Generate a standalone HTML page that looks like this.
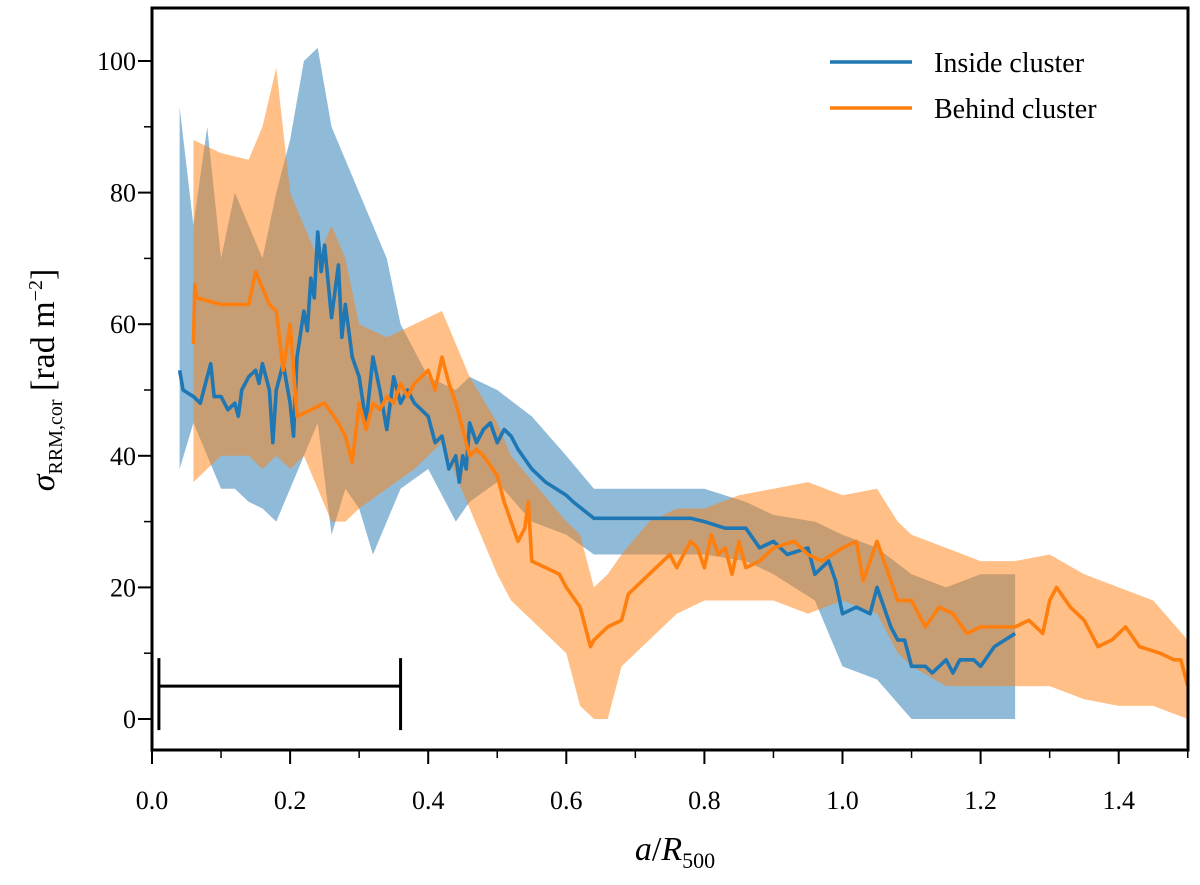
<!DOCTYPE html>
<html><head><meta charset="utf-8"><style>
body{margin:0;background:#fff}
text{font-family:"Liberation Serif",serif;fill:#000}
</style></head><body>
<svg id="chart" width="1200" height="880" xmlns="http://www.w3.org/2000/svg">
<g id="bands"></g><g id="lines"></g><g id="axes"></g>
</svg>
<script>
const blueX=[0.04,0.045,0.06,0.07,0.08,0.085,0.09,0.1,0.11,0.12,0.125,0.13,0.14,0.15,0.155,0.16,0.17,0.175,0.18,0.19,0.2,0.205,0.21,0.22,0.225,0.23,0.235,0.24,0.245,0.25,0.26,0.27,0.275,0.28,0.29,0.3,0.31,0.32,0.33,0.34,0.35,0.36,0.37,0.38,0.39,0.4,0.41,0.42,0.43,0.44,0.445,0.45,0.455,0.46,0.47,0.48,0.49,0.5,0.51,0.52,0.53,0.55,0.57,0.6,0.61,0.64,0.78,0.8,0.83,0.86,0.88,0.9,0.92,0.95,0.96,0.98,0.99,1.0,1.02,1.04,1.05,1.07,1.08,1.09,1.1,1.12,1.13,1.15,1.16,1.17,1.19,1.2,1.22,1.25];
const blueY=[53,50,49,48,52,54,49,49,47,48,46,50,52,53,51,54,50,42,50,54,48,43,55,62,59,67,64,74,68,72,61,69,58,63,55,52,45,55,50,44,52,48,50,48,47,46,42,43,38,40,36,40,38,45,42,44,45,42,44,43,41,38,36,34,33,30.5,30.5,30,29,29,26,27,25,26,22,24,21,16,17,16,20,14,12,12,8,8,7,9,7,9,9,8,11,13];
const blueBandX=[0.04,0.06,0.08,0.1,0.12,0.14,0.16,0.18,0.2,0.22,0.24,0.26,0.28,0.3,0.32,0.34,0.36,0.4,0.44,0.46,0.5,0.55,0.6,0.64,0.8,0.86,0.9,0.96,1.0,1.05,1.1,1.15,1.2,1.25];
const blueHi=[93,75,90,70,80,75,70,80,88,100,102,90,85,80,75,70,60,52,50,52,50,46,40,35,35,33,31,30,28,26,22,20,22,22];
const blueLo=[38,45,40,35,35,33,32,30,35,40,45,28,35,32,25,30,35,38,30,33,36,30,28,25,25,24,22,18,8,6,0,0,0,0];
const orangeX=[0.06,0.062,0.065,0.1,0.14,0.15,0.17,0.18,0.19,0.2,0.21,0.23,0.25,0.27,0.28,0.29,0.3,0.31,0.32,0.33,0.34,0.35,0.36,0.37,0.38,0.4,0.41,0.42,0.43,0.44,0.45,0.46,0.47,0.48,0.5,0.51,0.52,0.53,0.54,0.545,0.55,0.57,0.59,0.6,0.62,0.635,0.64,0.66,0.68,0.69,0.7,0.72,0.73,0.75,0.76,0.78,0.79,0.8,0.81,0.82,0.83,0.84,0.85,0.86,0.88,0.9,0.93,0.95,0.97,1.0,1.02,1.03,1.05,1.06,1.08,1.1,1.12,1.14,1.16,1.18,1.2,1.22,1.25,1.27,1.29,1.3,1.31,1.33,1.35,1.37,1.39,1.41,1.43,1.46,1.48,1.49,1.5];
const orangeY=[57,66,64,63,63,68,63,62,53,60,46,47,48,45,43,39,48,44,48,47,49,48,51,49,51,53,50,55,51,48,44,40,41,40,37,33,30,27,29,33,24,23,22,20,17,11,12,14,15,19,20,22,23,25,23,27,26,23,28,25,26,22,27,23,24,26,27,25,24,26,27,21,27,24,18,18,14,17,16,13,14,14,14,15,13,18,20,17,15,11,12,14,11,10,9,9,5];
const orangeBandX=[0.06,0.1,0.14,0.16,0.18,0.2,0.22,0.24,0.26,0.28,0.3,0.34,0.38,0.42,0.46,0.5,0.52,0.56,0.6,0.62,0.64,0.66,0.68,0.72,0.76,0.8,0.85,0.9,0.95,1.0,1.05,1.08,1.1,1.15,1.2,1.25,1.3,1.35,1.4,1.45,1.5];
const orangeHi=[88,86,85,90,99,80,75,70,75,70,60,58,60,62,52,45,40,35,30,28,20,22,25,30,32,32,34,35,36,34,35,30,28,26,24,24,25,22,20,18,12];
const orangeLo=[36,40,40,38,40,38,40,35,30,30,32,35,38,42,32,22,18,14,10,2,0,0,8,12,16,18,18,18,16,18,16,10,8,5,5,5,5,3,2,2,0];
const xTicks=[0,0.2,0.4,0.6,0.8,1.0,1.2,1.4];
const xTickLabels=["0.0","0.2","0.4","0.6","0.8","1.0","1.2","1.4"];
const yTicks=[0,20,40,60,80,100];
const yTickLabels=["0","20","40","60","80","100"];
const scaleBar=[0.01,0.36,5];

const X=v=>152+v*690.5, Y=v=>719-v*6.58;
const NS="http://www.w3.org/2000/svg";
function mk(parent,tag,attrs){const e=document.createElementNS(NS,tag);for(const k in attrs)e.setAttribute(k,attrs[k]);parent.appendChild(e);return e;}
const bands=document.getElementById('bands'),lines=document.getElementById('lines'),axes=document.getElementById('axes');
function band(xs,hi,lo,col,name){let d='M'+xs.map((x,i)=>X(x)+','+Y(hi[i])).join('L');for(let i=xs.length-1;i>=0;i--)d+='L'+X(xs[i])+','+Y(lo[i]);d+='Z';
const p=mk(bands,'path',{d:d,fill:col,'fill-opacity':0.5});

}
band(blueBandX,blueHi,blueLo,'#1f77b4','inside-cluster-band');
band(orangeBandX,orangeHi,orangeLo,'#ff7f0e','behind-cluster-band');
function line(xs,ys,col,name){const p=mk(lines,'polyline',{points:xs.map((x,i)=>X(x)+','+Y(ys[i])).join(' '),fill:'none',stroke:col,'stroke-width':3.6,'stroke-linejoin':'round'});

}
line(blueX,blueY,'#1f77b4','inside-cluster-line');
line(orangeX,orangeY,'#ff7f0e','behind-cluster-line');
const sb=mk(lines,'path',{d:`M${X(scaleBar[0])},${Y(scaleBar[2])}H${X(scaleBar[1])}M${X(scaleBar[0])},${Y(scaleBar[2])-28}V${Y(scaleBar[2])+44}M${X(scaleBar[1])},${Y(scaleBar[2])-28}V${Y(scaleBar[2])+44}`,stroke:'#000',fill:'none'});
sb.setAttribute('stroke-width','3');


const fr=mk(axes,'rect',{x:152,y:8,width:1036,height:742,fill:'none',stroke:'#000','stroke-width':3});


xTicks.forEach((t,i)=>{mk(axes,'line',{x1:X(t),x2:X(t),y1:750,y2:764,stroke:'#000','stroke-width':2});
const tx=mk(axes,'text',{x:X(t),y:809,'font-size':26,'text-anchor':'middle'});tx.textContent=xTickLabels[i];

});
yTicks.forEach((t,i)=>{mk(axes,'line',{x1:138,x2:152,y1:Y(t),y2:Y(t),stroke:'#000','stroke-width':2});
const tx=mk(axes,'text',{x:136,y:Y(t)+9,'font-size':26,'text-anchor':'end'});tx.textContent=yTickLabels[i];

});
for(let v=0.1;v<1.5;v+=0.2)mk(axes,'line',{x1:X(v),x2:X(v),y1:750,y2:758,stroke:'#000','stroke-width':1.5});
for(let v=10;v<=100;v+=20)mk(axes,'line',{x1:144,x2:152,y1:Y(v),y2:Y(v),stroke:'#000','stroke-width':1.5});
</script>
<svg style="position:absolute;left:0;top:0" width="1200" height="880" xmlns="http://www.w3.org/2000/svg">
<text x="675" y="860" font-size="34" text-anchor="middle"><tspan font-style="italic">a</tspan>/<tspan font-style="italic">R</tspan><tspan font-size="22" dy="8">500</tspan></text>
<text transform="translate(54,380) rotate(-90)" font-size="34" text-anchor="middle"><tspan font-style="italic">σ</tspan><tspan font-size="20" dy="8">RRM,cor</tspan><tspan dy="-8"> [rad m</tspan><tspan font-size="20" dy="-12">−2</tspan><tspan dy="12">]</tspan></text>
<g>
<line x1="830" x2="912" y1="62" y2="62" stroke="#1f77b4" stroke-width="3.6"/>
<text x="934" y="72" font-size="28">Inside cluster</text>
<line x1="830" x2="912" y1="108" y2="108" stroke="#ff7f0e" stroke-width="3.6"/>
<text x="934" y="118" font-size="28">Behind cluster</text>
</g>
</svg>
</body></html>
